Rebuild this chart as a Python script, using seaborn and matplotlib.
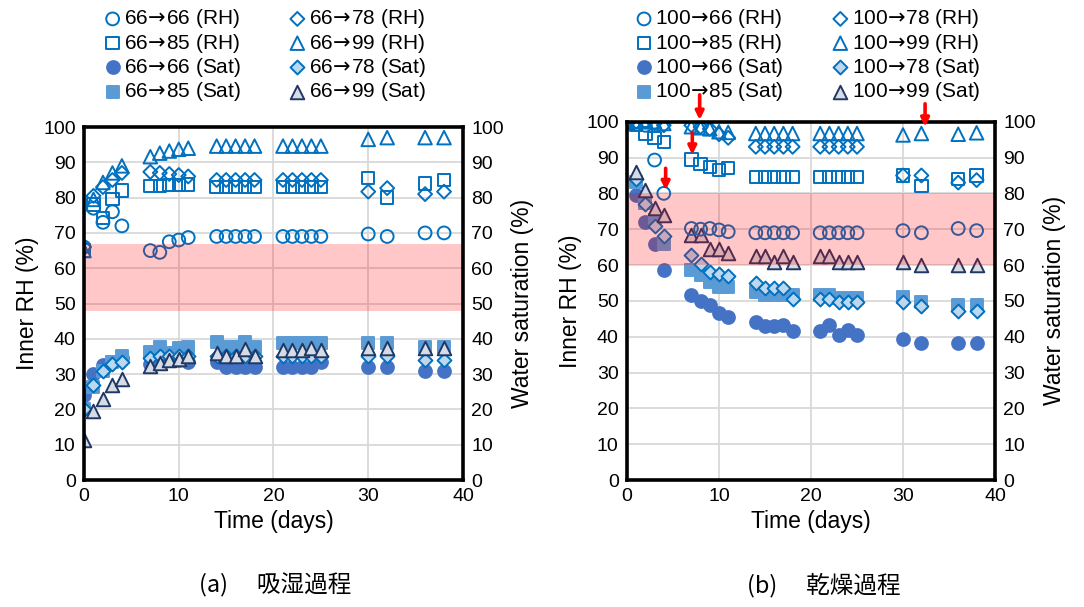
import numpy as np
import pandas as pd
import matplotlib
matplotlib.use("Agg")
import matplotlib.pyplot as plt
import seaborn as sns

days = [0, 1, 2, 3, 4, 7, 8, 9, 10, 11, 14, 15, 16, 17, 18, 21, 22, 23, 24, 25, 30, 32, 36, 38]

# (a) absorption: 66 -> x
a_rh_66 = [66, 77, 73, 76, 72, 65, 64.5, 67.5, 68, 68.7, 69, 69, 69, 69, 69, 69, 69, 69, 69, 69, 69.7, 69, 70, 70]
a_rh_78 = [66, 80.5, 83, 85, 87, 87.3, 87, 86.7, 86.4, 86, 85, 85, 85, 85, 85, 85, 85, 85, 85, 85, 81.7, 82.7, 81, 81.7]
a_rh_85 = [65, 78, 74.2, 79.6, 82, 83.3, 83.3, 83.5, 83.5, 83.7, 83, 83, 83, 83, 83, 83, 83, 83, 83, 83, 85.5, 80, 84, 85]
a_rh_99 = [65, 79.5, 84.3, 87, 89, 91.6, 92.6, 93.2, 93.7, 94, 94.6, 94.6, 94.6, 94.6, 94.6, 94.6, 94.6, 94.6, 94.6, 94.6, 96.5, 97, 97, 97]
a_sat_66 = [24, 30, 32.5, 33.5, 34.5, 33, 33.5, 34, 34, 33.5, 33.5, 32.1, 32.1, 32.1, 32.1, 32.1, 32.1, 32.1, 32.1, 33.5, 32, 32, 31, 31]
a_sat_78 = [20, 27, 31, 33, 33.5, 34.5, 35, 35, 35, 35, 35, 35, 35, 35, 35, 35, 35, 35, 35, 35, 35, 35, 34, 34]
a_sat_85 = [20, 26.4, 31, 33.5, 35, 36.3, 37.8, 35.9, 37.3, 37.8, 39.2, 37.8, 37.8, 39.2, 37.8, 38.8, 38.8, 38.8, 38.8, 38.8, 38.9, 38.8, 37.8, 37.8]
a_sat_99 = [11.3, 19.5, 23, 27, 28.5, 32.4, 33.2, 34, 34.2, 35, 36.1, 35, 35, 37, 35, 36.8, 36.8, 36.8, 37.4, 36.8, 37.5, 37.5, 37.5, 37.5]

# (b) drying: 100 -> x
b_rh_66 = [100, 100, 99, 89.3, 80, 70.2, 70, 70.2, 69.8, 69.3, 69, 69, 69, 69, 69, 69, 69, 69, 69, 69, 69.6, 69, 70.2, 69.6]
b_rh_78 = [100, 100, 100, 99.5, 99, 99, 98.5, 98, 96.5, 95.5, 93, 93, 93, 93, 93, 93, 93, 93, 93, 93, 85, 85, 83, 83.7]
b_rh_85 = [100, 99, 96.7, 95.4, 94.4, 89.5, 88.2, 87.4, 86.5, 87, 84.6, 84.6, 84.6, 84.6, 84.6, 84.6, 84.6, 84.6, 84.6, 84.6, 85, 82, 84, 85]
b_rh_99 = [100, 100, 100, 100, 99.5, 98.6, 98.3, 98, 97.2, 97, 96.7, 96.7, 96.7, 96.7, 96.7, 96.7, 96.7, 96.7, 96.7, 96.7, 96.3, 96.7, 96.5, 96.9]
b_sat_66 = [100, 79.5, 72.1, 65.9, 58.6, 51.6, 50, 48.8, 46.5, 45.4, 44, 43, 43, 43.3, 41.7, 41.7, 43.3, 40.5, 42, 40.5, 39.3, 38.3, 38.3, 38.3]
b_sat_78 = [100, 84, 77, 71, 68, 62.8, 60.2, 58.1, 57.5, 57, 54.9, 53.5, 53.5, 53.5, 50.5, 50.5, 50.5, 49.8, 49.8, 49.8, 49.7, 48.6, 47.2, 47.2]
b_sat_85 = [100, 83.3, 77.2, 72.6, 66, 58.6, 57.2, 55.3, 54, 54, 52.6, 51.6, 51.6, 51.6, 51.6, 51.6, 51.6, 50.7, 50.7, 50.7, 51.2, 49.8, 48.8, 48.8]
b_sat_99 = [100, 86, 81, 76, 74, 68.4, 68.4, 64.4, 64.4, 63.3, 62.5, 62.5, 60.9, 62.5, 60.9, 62.5, 62.5, 60.9, 60.9, 60.9, 60.9, 60, 60, 60]

band_a = (48, 67)
band_b = (60, 80)

BLUE = "#0070C0"
styles = {
    "66 (RH)": dict(marker="o", facecolor="none", edgecolor=BLUE, s=85),
    "78 (RH)": dict(marker="D", facecolor="none", edgecolor=BLUE, s=50),
    "85 (RH)": dict(marker="s", facecolor="none", edgecolor=BLUE, s=80),
    "99 (RH)": dict(marker="^", facecolor="none", edgecolor=BLUE, s=95),
    "66 (Sat)": dict(marker="o", facecolor="#4472C4", edgecolor="#4472C4", s=85),
    "78 (Sat)": dict(marker="D", facecolor="#BDD7EE", edgecolor=BLUE, s=50),
    "85 (Sat)": dict(marker="s", facecolor="#5B9BD5", edgecolor="#5B9BD5", s=80),
    "99 (Sat)": dict(marker="^", facecolor="#D6DCE5", edgecolor="#203864", s=95),
}
order = ["66 (RH)", "85 (RH)", "66 (Sat)", "85 (Sat)", "78 (RH)", "99 (RH)", "78 (Sat)", "99 (Sat)"]
ARROW = "$\\!\\rightarrow\\!$"

plt.rcParams["font.family"] = ["Liberation Sans", "DejaVu Sans"]
fig = plt.figure(figsize=(10.84, 6.07), dpi=100)
ax1 = fig.add_axes([0.0775, 0.2092, 0.3496, 0.5815])
ax2 = fig.add_axes([0.5784, 0.2092, 0.3395, 0.5903])


def draw(ax, start, series, band, lx):
    draw_order = ["66 (Sat)", "85 (Sat)", "78 (Sat)", "99 (Sat)",
                  "66 (RH)", "85 (RH)", "78 (RH)", "99 (RH)"]
    for key in draw_order:
        st = dict(styles[key])
        sns.scatterplot(x=days, y=series[key], ax=ax, linewidth=1.4,
                        label=f"{start}{ARROW}{key}", legend=False, zorder=3, **st)
    ax.axhspan(band[0], band[1], color="red", alpha=0.22, lw=0, zorder=4)
    ax.set_xlim(0, 40)
    ax.set_ylim(0, 100)
    ax.set_xticks(range(0, 41, 10))
    ax.set_yticks(range(0, 101, 10))
    ax.grid(True, color="#D9D9D9", lw=1.3, zorder=0)
    ax.set_axisbelow(True)
    for sp in ax.spines.values():
        sp.set_linewidth(2.6)
        sp.set_color("black")
        sp.set_zorder(6)
    ax.tick_params(length=0, labelsize=14, pad=6)
    ax.set_xlabel("Time (days)", fontsize=16.5, labelpad=3)
    ax.set_ylabel("Inner RH (%)", fontsize=16.5, labelpad=3)
    tw = ax.twinx()
    tw.set_ylim(0, 100)
    tw.set_yticks(range(0, 101, 10))
    tw.tick_params(length=0, labelsize=14, pad=6)
    tw.set_ylabel("Water saturation (%)", fontsize=16.5, labelpad=5)
    for sp in tw.spines.values():
        sp.set_visible(False)
    h, l = ax.get_legend_handles_labels()
    lookup = dict(zip(l, h))
    labs = [f"{start}{ARROW}{k}" for k in order]
    fig.legend([lookup[k] for k in labs], labs, loc="upper center",
               bbox_to_anchor=(lx, 1.005), ncol=2, frameon=False, fontsize=15,
               handletextpad=0.05, handlelength=1.0, labelspacing=0.06,
               columnspacing=2.2, borderpad=0.0)


draw(ax1, 66, {
    "66 (RH)": a_rh_66, "78 (RH)": a_rh_78, "85 (RH)": a_rh_85, "99 (RH)": a_rh_99,
    "66 (Sat)": a_sat_66, "78 (Sat)": a_sat_78, "85 (Sat)": a_sat_85, "99 (Sat)": a_sat_99,
}, band_a, 264 / 1084)
draw(ax2, 100, {
    "66 (RH)": b_rh_66, "78 (RH)": b_rh_78, "85 (RH)": b_rh_85, "99 (RH)": b_rh_99,
    "66 (Sat)": b_sat_66, "78 (Sat)": b_sat_78, "85 (Sat)": b_sat_85, "99 (Sat)": b_sat_99,
}, band_b, 807 / 1084)

# red arrows marking points in (b)
for x, y0, y1 in [(7.9, 107.5, 100.5), (7.1, 97.0, 90.8), (4.2, 87.0, 80.9), (32.4, 105.0, 98.6)]:
    ax2.annotate("", xy=(x, y1), xytext=(x, y0), annotation_clip=False, zorder=8,
                 arrowprops=dict(arrowstyle="-|>", color="red", lw=2.6, mutation_scale=12,
                                 shrinkA=0, shrinkB=0))

cap_font = ["Noto Sans CJK JP", "DejaVu Sans"]
fig.text(275 / 1084, 1 - 585 / 607, "(a)\u3000 吸湿過程", ha="center", va="center",
         fontsize=17, family=cap_font)
fig.text(824 / 1084, 1 - 585 / 607, "(b)\u3000 乾燥過程", ha="center", va="center",
         fontsize=17, family=cap_font)

fig.savefig("out.png", dpi=100)
